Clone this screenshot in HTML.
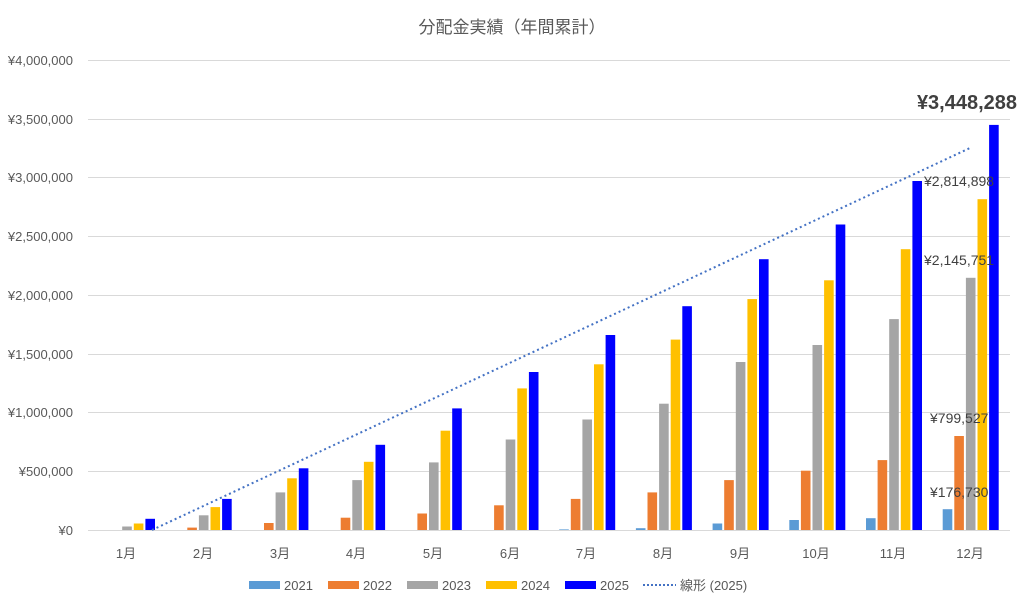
<!DOCTYPE html>
<html><head><meta charset="utf-8"><style>
html,body{margin:0;padding:0;background:#fff;}
svg{display:block;font-family:"Liberation Sans","Noto Sans CJK JP",sans-serif;}
</style></head><body>
<svg width="1024" height="607" viewBox="0 0 1024 607">
<rect width="1024" height="607" fill="#fff"/>
<text x="512" y="33" text-anchor="middle" font-size="17" fill="#595959">分配金実績（年間累計）</text>
<g stroke="#d9d9d9" stroke-width="1">
<line x1="88" x2="1010" y1="60.5" y2="60.5"/>
<line x1="88" x2="1010" y1="119.5" y2="119.5"/>
<line x1="88" x2="1010" y1="177.5" y2="177.5"/>
<line x1="88" x2="1010" y1="236.5" y2="236.5"/>
<line x1="88" x2="1010" y1="295.5" y2="295.5"/>
<line x1="88" x2="1010" y1="354.5" y2="354.5"/>
<line x1="88" x2="1010" y1="412.5" y2="412.5"/>
<line x1="88" x2="1010" y1="471.5" y2="471.5"/>
<line x1="88" x2="1010" y1="530.5" y2="530.5"/>
</g>
<g font-size="13" fill="#595959" text-anchor="end">
<text x="73" y="65">¥4,000,000</text>
<text x="73" y="124">¥3,500,000</text>
<text x="73" y="182">¥3,000,000</text>
<text x="73" y="241">¥2,500,000</text>
<text x="73" y="300">¥2,000,000</text>
<text x="73" y="359">¥1,500,000</text>
<text x="73" y="417">¥1,000,000</text>
<text x="73" y="476">¥500,000</text>
<text x="73" y="535">¥0</text>
</g>
<g font-size="13" fill="#595959" text-anchor="middle">
<text x="126" y="558">1月</text><text x="203" y="558">2月</text><text x="280" y="558">3月</text><text x="356" y="558">4月</text><text x="433" y="558">5月</text><text x="510" y="558">6月</text><text x="586" y="558">7月</text><text x="663" y="558">8月</text><text x="740" y="558">9月</text><text x="816" y="558">10月</text><text x="893" y="558">11月</text><text x="970" y="558">12月</text>
</g>
<g transform="translate(0,530) scale(1,-1)">
<g fill="#5b9bd5">
<rect x="559.2" y="0" width="9.6" height="0.6"/><rect x="635.9" y="0" width="9.6" height="1.8"/><rect x="712.6" y="0" width="9.6" height="6.5"/><rect x="789.3" y="0" width="9.6" height="10"/><rect x="866" y="0" width="9.6" height="11.8"/><rect x="942.7" y="0" width="9.6" height="20.8"/>
</g>
<g fill="#ed7d31">
<rect x="187.3" y="0" width="9.6" height="2.4"/><rect x="264" y="0" width="9.6" height="7"/><rect x="340.7" y="0" width="9.6" height="12.3"/><rect x="417.4" y="0" width="9.6" height="16.5"/><rect x="494.1" y="0" width="9.6" height="24.7"/><rect x="570.8" y="0" width="9.6" height="31.1"/><rect x="647.5" y="0" width="9.6" height="37.6"/><rect x="724.2" y="0" width="9.6" height="49.9"/><rect x="800.9" y="0" width="9.6" height="59.3"/><rect x="877.6" y="0" width="9.6" height="69.9"/><rect x="954.3" y="0" width="9.6" height="94"/>
</g>
<g fill="#a5a5a5">
<rect x="122.2" y="0" width="9.6" height="3.5"/><rect x="198.9" y="0" width="9.6" height="14.7"/><rect x="275.6" y="0" width="9.6" height="37.6"/><rect x="352.3" y="0" width="9.6" height="49.9"/><rect x="429" y="0" width="9.6" height="67.6"/><rect x="505.7" y="0" width="9.6" height="90.5"/><rect x="582.4" y="0" width="9.6" height="110.5"/><rect x="659.1" y="0" width="9.6" height="126.3"/><rect x="735.8" y="0" width="9.6" height="168"/><rect x="812.5" y="0" width="9.6" height="185"/><rect x="889.2" y="0" width="9.6" height="210.9"/><rect x="965.9" y="0" width="9.6" height="252.2"/>
</g>
<g fill="#ffc000">
<rect x="133.8" y="0" width="9.6" height="6.5"/><rect x="210.5" y="0" width="9.6" height="22.9"/><rect x="287.2" y="0" width="9.6" height="51.7"/><rect x="363.9" y="0" width="9.6" height="68.2"/><rect x="440.6" y="0" width="9.6" height="99.3"/><rect x="517.3" y="0" width="9.6" height="141.6"/><rect x="594" y="0" width="9.6" height="165.7"/><rect x="670.7" y="0" width="9.6" height="190.4"/><rect x="747.4" y="0" width="9.6" height="230.9"/><rect x="824.1" y="0" width="9.6" height="249.7"/><rect x="900.8" y="0" width="9.6" height="280.8"/><rect x="977.5" y="0" width="9.6" height="330.8"/>
</g>
<g fill="#0000ff">
<rect x="145.4" y="0" width="9.6" height="11.2"/><rect x="222.1" y="0" width="9.6" height="31.1"/><rect x="298.8" y="0" width="9.6" height="61.7"/><rect x="375.5" y="0" width="9.6" height="85.2"/><rect x="452.2" y="0" width="9.6" height="121.6"/><rect x="528.9" y="0" width="9.6" height="158"/><rect x="605.6" y="0" width="9.6" height="195"/><rect x="682.3" y="0" width="9.6" height="223.8"/><rect x="759" y="0" width="9.6" height="270.8"/><rect x="835.7" y="0" width="9.6" height="305.5"/><rect x="912.4" y="0" width="9.6" height="349"/><rect x="989.1" y="0" width="9.6" height="405.1"/>
</g>
</g>
<line x1="152" y1="530" x2="970" y2="148" stroke="#4472c4" stroke-width="2" stroke-dasharray="2,3"/>
<g font-size="14" fill="#404040">
<text x="924" y="186">¥2,814,898</text>
<text x="924" y="265">¥2,145,751</text>
<text x="930" y="423">¥799,527</text>
<text x="930" y="497">¥176,730</text>
</g>
<text x="967" y="109" text-anchor="middle" font-size="20" font-weight="bold" fill="#404040">¥3,448,288</text>
<g font-size="13" fill="#595959">
<rect x="249" y="581" width="31" height="8" fill="#5b9bd5"/><text x="284" y="590">2021</text>
<rect x="328" y="581" width="31" height="8" fill="#ed7d31"/><text x="363" y="590">2022</text>
<rect x="407" y="581" width="31" height="8" fill="#a5a5a5"/><text x="442" y="590">2023</text>
<rect x="486" y="581" width="31" height="8" fill="#ffc000"/><text x="521" y="590">2024</text>
<rect x="565" y="581" width="31" height="8" fill="#0000ff"/><text x="600" y="590">2025</text>
<line x1="643" y1="585" x2="676" y2="585" stroke="#4472c4" stroke-width="2" stroke-dasharray="2,2"/><text x="680" y="590">線形 (2025)</text>
</g>
</svg>
</body></html>
